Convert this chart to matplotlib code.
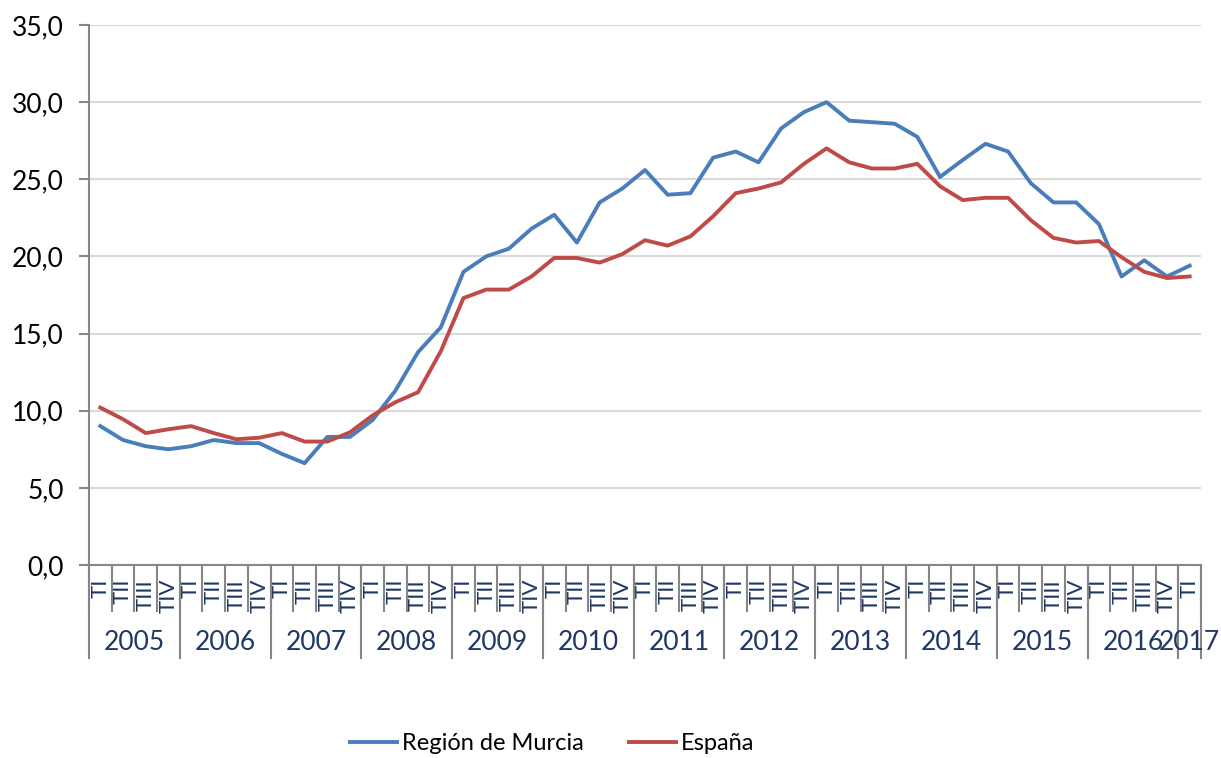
import matplotlib.pyplot as plt
from matplotlib.ticker import FuncFormatter

plt.rcParams['font.family'] = ['Lato', 'DejaVu Sans']

# Quarterly series, 2005 TI .. 2017 TI
years = ['2005', '2006', '2007', '2008', '2009', '2010', '2011', '2012',
         '2013', '2014', '2015', '2016', '2017']
quarters = ['TI', 'TII', 'TIII', 'TIV']

murcia = [9.0, 8.1, 7.7, 7.5, 7.7, 8.1, 7.9, 7.9,
          7.2, 6.6, 8.3, 8.3, 9.4, 11.3, 13.8, 15.4,
          19.0, 20.0, 20.5, 21.8, 22.7, 20.9, 23.5, 24.4,
          25.6, 24.0, 24.1, 26.4, 26.8, 26.1, 28.3, 29.35,
          30.0, 28.8, 28.7, 28.6, 27.75, 25.15, 26.25, 27.3,
          26.8, 24.75, 23.5, 23.5, 22.1, 18.7, 19.75, 18.7,
          19.4]
espana = [10.2, 9.45, 8.55, 8.8, 9.0, 8.55, 8.15, 8.25,
          8.55, 8.0, 8.0, 8.6, 9.7, 10.55, 11.2, 13.85,
          17.3, 17.85, 17.85, 18.7, 19.9, 19.9, 19.6, 20.15,
          21.05, 20.7, 21.3, 22.6, 24.1, 24.4, 24.8, 26.0,
          27.0, 26.1, 25.7, 25.7, 26.0, 24.55, 23.65, 23.8,
          23.8, 22.35, 21.2, 20.9, 21.0, 19.95, 19.0, 18.6,
          18.7]

labels = []
for y in years:
    labels += quarters if y != '2017' else ['TI']
x = list(range(len(labels)))

navy = '#1F3864'
axis_grey = '#868686'

fig = plt.figure(figsize=(12.21, 7.58), dpi=100)
ax = fig.add_axes([89 / 1221, 1 - 565 / 758, 1112 / 1221, 540 / 758])

ax.plot(x, murcia, color='#4A7EBB', lw=2.8, label='Región de Murcia')
ax.plot(x, espana, color='#BE4B48', lw=2.8, label='España')

ax.set_xlim(-0.5, len(labels) - 0.5)
ax.set_ylim(0, 35)
ax.set_yticks(range(0, 36, 5))
ax.yaxis.set_major_formatter(FuncFormatter(lambda v, p: f'{v:.1f}'.replace('.', ',')))
ax.grid(axis='y', color='#D9D9D9', lw=1.5)
ax.set_axisbelow(True)

for s in ['top', 'right']:
    ax.spines[s].set_visible(False)
for s in ['left', 'bottom']:
    ax.spines[s].set_color(axis_grey)
    ax.spines[s].set_linewidth(1.5)

ax.tick_params(axis='y', length=7, width=1.5, color=axis_grey, labelsize=19, pad=11)

# quarter labels, rotated under each point
ax.set_xticks(x)
ax.set_xticklabels(labels, rotation=90, va='top', ha='center', color=navy, fontsize=16)
ax.tick_params(axis='x', length=0, pad=10)

# short separators between quarters, long ones between years
ax.set_xticks([i - 0.5 for i in range(len(labels) + 1)], minor=True)
ax.tick_params(axis='x', which='minor', length=34, width=1.5, color=axis_grey)

trans = ax.get_xaxis_transform()
start = 0
for y in years:
    n = 4 if y != '2017' else 1
    ax.plot([start - 0.5, start - 0.5], [0, -93 / 540], transform=trans,
            color=axis_grey, lw=1.5, clip_on=False)
    ax.text(start + (n - 1) / 2, -78 / 540, y, transform=trans,
            ha='center', va='center', color=navy, fontsize=19)
    start += n
ax.plot([start - 0.5, start - 0.5], [0, -93 / 540], transform=trans,
        color=axis_grey, lw=1.5, clip_on=False)

fig.legend(loc='center', bbox_to_anchor=(552 / 1221, 1 - 744 / 758), ncol=2,
           frameon=False, fontsize=17, handlelength=2.0, handletextpad=0.2,
           columnspacing=1.9)

fig.savefig('out.png', dpi=100)
